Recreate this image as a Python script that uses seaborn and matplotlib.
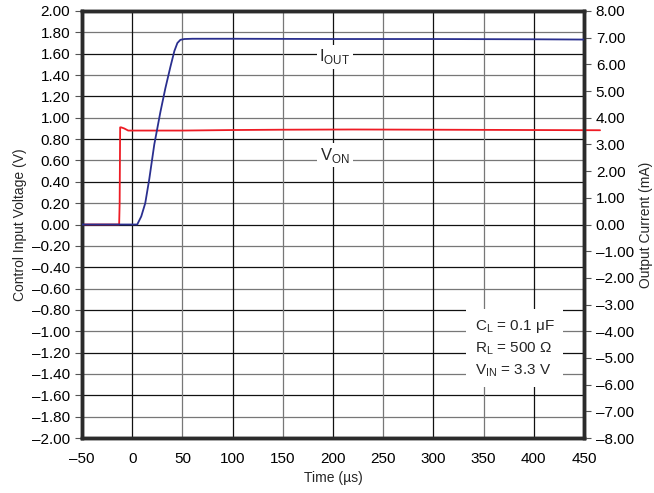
import matplotlib
matplotlib.use("Agg")
import matplotlib.pyplot as plt
import matplotlib.ticker as mticker
import seaborn as sns

# V_ON (control input voltage, V)
von_t = [-50, -13, -12.5, -12, -11, -8, -4, 0, 50, 100, 150, 220, 300, 400, 466]
von_v = [0.0, 0.0, 0.2, 0.91, 0.91, 0.90, 0.88, 0.88, 0.88, 0.885, 0.888, 0.89, 0.888, 0.885, 0.883]

# I_OUT (output current, mA)
iout_t = [-50, 0, 5, 9, 13, 17, 22, 28, 33, 38, 42, 45, 48, 52, 60, 100, 200, 300, 400, 450]
iout_ma = [0.0, 0.0, 0.0, 0.3, 0.8, 1.7, 3.0, 4.2, 5.1, 5.9, 6.5, 6.8, 6.92, 6.95, 6.96, 6.96, 6.95, 6.95, 6.94, 6.93]

x_ticks = list(range(-50, 451, 50))
left_ticks = [round(-2 + 0.2 * i, 2) for i in range(21)]
right_ticks = list(range(-8, 9))

sns.set_style("white")
plt.rcParams["font.family"] = ["Liberation Sans", "DejaVu Sans"]

fig = plt.figure(figsize=(6.54, 4.93), dpi=100)
ax = fig.add_axes([82 / 654, 1 - 438 / 493, 502 / 654, 427 / 493])
ax2 = ax.twinx()

fmt = mticker.FuncFormatter(lambda v, p: f"{v:.2f}".replace("-", "\u2013"))
xfmt = mticker.FuncFormatter(lambda v, p: f"{v:.0f}".replace("-", "\u2013"))

ax.set_xlim(-50, 450)
ax.set_ylim(-2, 2)
ax2.set_ylim(-8, 8)
ax.set_xticks(x_ticks)
ax.set_yticks(left_ticks)
ax2.set_yticks(right_ticks)
ax.xaxis.set_major_formatter(xfmt)
ax.yaxis.set_major_formatter(fmt)
ax2.yaxis.set_major_formatter(fmt)

for i, y in enumerate(left_ticks):
    ax.axhline(y, color="#111111" if i % 2 == 0 else "#777777", lw=0.9, zorder=0)
for i, x in enumerate(x_ticks):
    ax.axvline(x, color="#111111" if i % 2 == 1 else "#777777", lw=0.9, zorder=0)

sns.lineplot(x=von_t, y=von_v, ax=ax, color="#ee1c25", lw=1.3, clip_on=False, zorder=3)
sns.lineplot(x=iout_t, y=iout_ma, ax=ax2, color="#2a2f8f", lw=1.3, zorder=3)

for a in (ax, ax2):
    for s in a.spines.values():
        s.set_color("#2b2b2b")
        s.set_linewidth(2.5)
    a.tick_params(direction="out", length=5, width=0.8, color="#555555",
                  labelsize=11, colors="black")
ax.tick_params(axis="x", pad=5)

ax.set_xlabel("Time (\u00b5s)", fontsize=10, labelpad=4)
ax.set_ylabel("Control Input Voltage (V)", fontsize=10, labelpad=4)
ax2.set_ylabel("Output Current (mA)", fontsize=10, labelpad=4)

box = dict(facecolor="white", edgecolor="none", pad=2)
ax.text(202, 1.57, r"I$_{\mathregular{OUT}}$", fontsize=12, ha="center", va="center", bbox=box, zorder=4)
ax.text(202, 0.65, r"V$_{\mathregular{ON}}$", fontsize=12, ha="center", va="center", bbox=box, zorder=4)
ann = (r"C$_{\mathregular{L}}$ = 0.1 $\mathregular{\mu}$F" + "\n"
       r"R$_{\mathregular{L}}$ = 500 $\mathregular{\Omega}$" + "\n"
       r"V$_{\mathregular{IN}}$ = 3.3 V")
ax.text(341, -1.16, ann, fontsize=11, ha="left", va="center", linespacing=1.45,
        bbox=dict(facecolor="white", edgecolor="none", pad=6), zorder=4)

fig.savefig("out.png", dpi=100)
